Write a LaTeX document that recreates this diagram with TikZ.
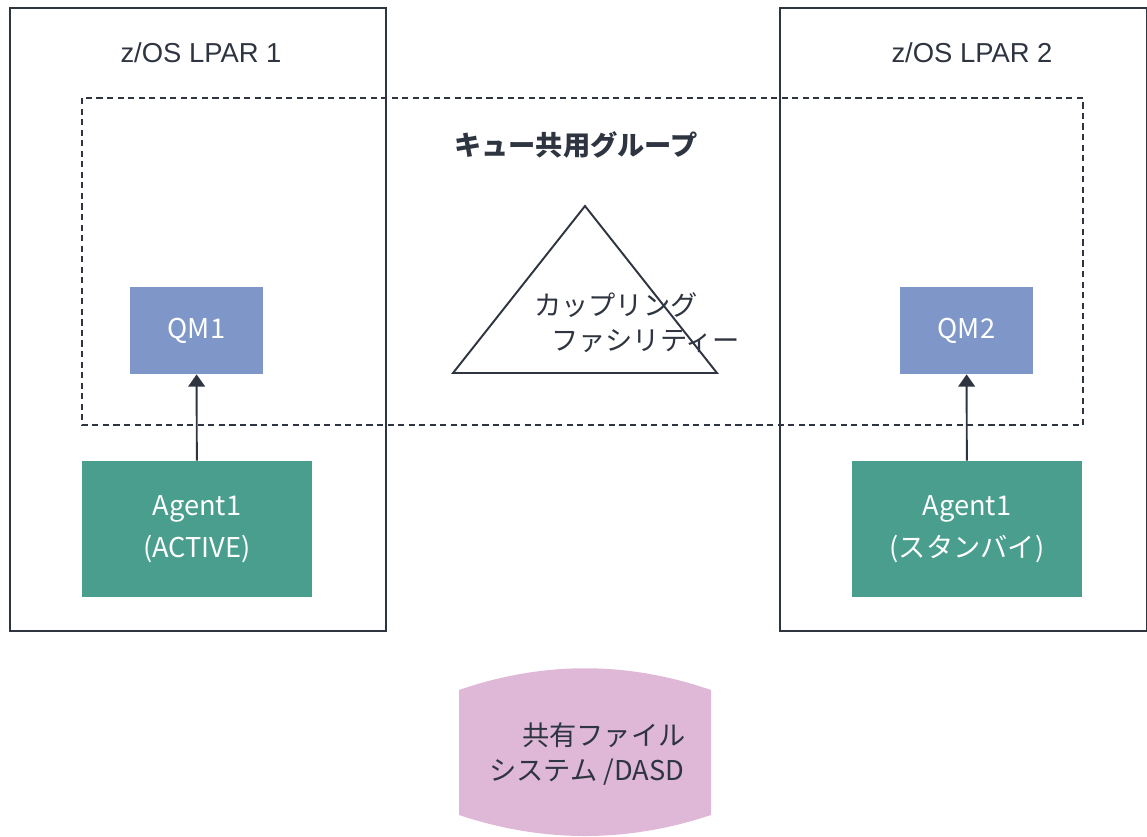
\documentclass[tikz,border=0pt]{standalone}
\usepackage{fontspec}
\setmainfont{Noto Sans CJK JP}
\newfontfamily\lparfont{Liberation Sans}
\usepackage{tikz}
\usetikzlibrary{arrows.meta,positioning,calc}
\definecolor{InkDark}{HTML}{2E3440}
\definecolor{QMBlue}{HTML}{7F97C8}
\definecolor{AgentGreen}{HTML}{4A9E8E}
\definecolor{DiskPink}{HTML}{DFB8D8}
\tikzset{
    % LPAR frames
    lpar/.style={
        rectangle,
        draw=InkDark,
        line width=0.9pt,
        fill=none
    },
    group frame/.style={
        rectangle,
        draw=InkDark,
        line width=0.9pt,
        dash pattern=on 3.5pt off 2.5pt
    },
    qmgr/.style={
        rectangle,
        fill=QMBlue,
        text=white,
        minimum width=2.66cm,
        minimum height=1.74cm,
        align=center,
        font=\fontsize{15.5}{19}\selectfont
    },
    agent/.style={
        rectangle,
        fill=AgentGreen,
        text=white,
        minimum width=4.6cm,
        minimum height=2.72cm,
        align=center,
        font=\fontsize{15.5}{24}\selectfont
    },
    caption/.style={
        text=InkDark,
        align=center,
        font=\fontsize{15.5}{20}\selectfont
    },
    lpar title/.style={
        caption,
        font=\lparfont\fontsize{15.6}{20}\selectfont
    },
    arrow/.style={
        -{Triangle[length=7pt,width=9.5pt]},
        line width=1.1pt,
        color=InkDark
    }
}
\begin{document}
\begin{tikzpicture}[x=0.02cm, y=-0.02cm]
    \useasboundingbox (0,0) rectangle (1147,836);

    % LPARs and queue sharing group
    \draw[lpar] (10,8) rectangle (386,631);
    \draw[lpar] (780,8) rectangle (1147,631);
    \draw[group frame] (82,98) rectangle (1083,425);
    \node[lpar title] (lpar1) at (201,53) {z/OS LPAR 1};
    \node[lpar title] (lpar2) at (972,53) {z/OS LPAR 2};
    \node[caption, font=\fontsize{15.5}{20}\selectfont\bfseries] (qsg) at (576,145) {キュー共用グループ};

    % Queue managers and agents
    \node[qmgr] (qm1) at (196.5,330.5) {QM1};
    \node[qmgr] (qm2) at (966.5,330.5) {QM2};
    \node[agent] (agent1) at (197,529) {Agent1\\(ACTIVE)};
    \node[agent] (agent2) at (967,529) {Agent1\\(スタンバイ)};

    % Coupling facility
    \draw[line width=1.1pt, color=InkDark, line join=miter] (585,206) -- (717,373) -- (453,373) -- cycle;
    \node[caption, anchor=west] (cf1) at (528,305) {カップリング};
    \node[caption, anchor=west] (cf2) at (545,341) {ファシリティー};

    % Shared file system
    \fill[DiskPink] (459,690) .. controls (543,661) and (627,661) .. (711,690) -- (711,815)
        .. controls (627,843) and (543,843) .. (459,815) -- cycle;
    \node[caption, anchor=west] (fs1) at (516,735) {共有ファイル};
    \node[caption, anchor=west] (fs2) at (483,772) {システム /DASD};

    % Arrows
    \draw[arrow] (agent1) -- (qm1);
    \draw[arrow] (agent2) -- (qm2);
\end{tikzpicture}
\end{document}
